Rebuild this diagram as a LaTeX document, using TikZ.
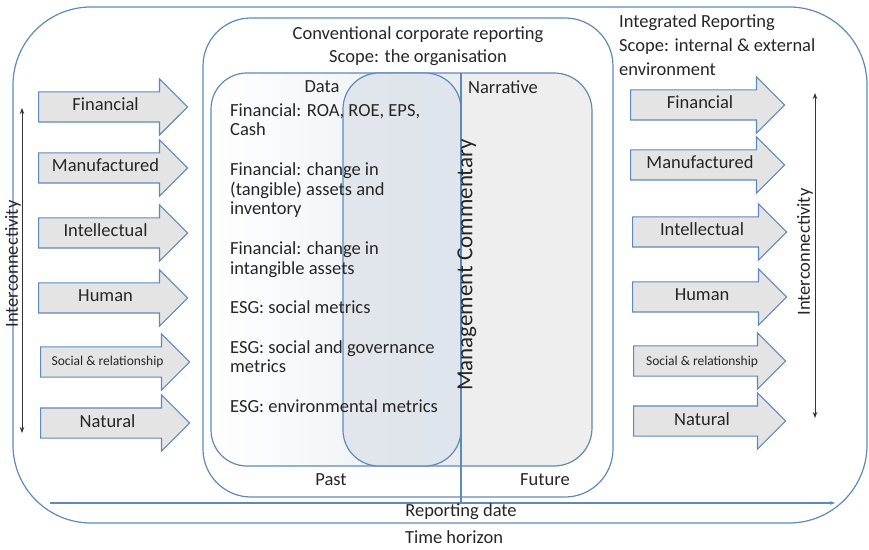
\documentclass[tikz,border=0pt]{standalone}
\usepackage{fontspec}
\setmainfont{Carlito}
\usetikzlibrary{arrows.meta,positioning,shapes.arrows}
\definecolor{ln}{RGB}{95,137,188}
\definecolor{ink}{RGB}{38,38,38}
\definecolor{capfill}{RGB}{228,228,228}
\definecolor{narr}{RGB}{238,238,238}
\definecolor{mgmt}{RGB}{222,228,235}
\tikzset{
  cap/.style={single arrow,draw=ln,fill=capfill,line width=1.2pt,anchor=tail,
    single arrow head extend=13pt,single arrow tip angle=90,
    text height=11pt,text depth=3pt,inner ysep=7.5pt,inner xsep=2pt,
    minimum height=#1,font=\fontsize{18.5}{20}\selectfont,text=ink},
  cap/.default={149pt},
  frame/.style={draw=ln,line width=1.2pt},
  lbl/.style={font=\fontsize{18.5}{20}\selectfont,text=ink},
  vlbl/.style={lbl,rotate=90,inner sep=0pt},
  dbl/.style={{Stealth[length=6pt]}-{Stealth[length=6pt]},line width=1pt,black!80},
}

\begin{document}
\begin{tikzpicture}[x=1pt,y=1pt]
 \useasboundingbox (0,0) rectangle (869,549);
 % integrated reporting frame and conventional reporting frame
 \draw[frame,rounded corners=78pt] (13,26) rectangle (867,542);
 \draw[frame,rounded corners=48pt] (203,52) rectangle (613,531);
 % data panel, narrative panel, management commentary overlap
 \draw[frame,rounded corners=36pt,left color=white,right color=mgmt!70] (461,83) -| (211,476) -- (461,476);
 \draw[frame,rounded corners=38pt,fill=narr] (461,476) -| (592,83) -- (461,83);
 \draw[frame,rounded corners=36pt,fill=mgmt,fill opacity=0.85] (343,83) rectangle (461,476);
 % reporting date and time horizon
 \coordinate (rdtop) at (461,476);
 \coordinate (rdbot) at (461,46);
 \coordinate (tstart) at (50,46);
 \coordinate (tend) at (835,46);
 \draw[frame] (rdtop) -- (rdbot);
 \draw[frame,-{Stealth[length=5pt]}] (tstart) -- (tend);
 % headings
 \node[lbl,align=center,font=\fontsize{18.5}{23}\selectfont] (conv) at (418,503) {Conventional corporate reporting\\Scope: the organisation};
 \node[lbl,align=left,anchor=north west,inner sep=0pt,font=\fontsize{18.5}{24}\selectfont] (ir) at (619,535) {Integrated Reporting\\Scope: internal \& external\\environment};
 \node[lbl] (data) at (322,462) {Data};
 \node[lbl] (narr) at (503,462) {Narrative};
 \node[lbl,align=left,anchor=north west,inner sep=0pt,font=\fontsize{18.5}{19.75}\selectfont] (items) at (230,446)
   {Financial: ROA, ROE, EPS,\\Cash\\[19.75pt]
    Financial: change in\\(tangible) assets and\\inventory\\[19.75pt]
    Financial: change in\\intangible assets\\[19.75pt]
    ESG: social metrics\\[19.75pt]
    ESG: social and governance\\metrics\\[19.75pt]
    ESG: environmental metrics};
 \node[vlbl,font=\fontsize{23}{24}\selectfont] (mc) at (467,284) {Management Commentary};
 \node[lbl] (past) at (331,69) {Past};
 \node[lbl] (fut) at (545,69) {Future};
 \node[lbl] (rd) at (461,37) {Reporting date};
 \node[lbl] (th) at (454,12) {Time horizon};
 % capitals going in
 \node[cap] (lfin) at (38,442) {Financial};
 \node[cap] (lman) at (38,381) {Manufactured};
 \node[cap] (lint) at (38,316) {Intellectual};
 \node[cap] (lhum) at (38,251) {Human};
 \node[cap,font=\fontsize{13.5}{14}\selectfont] (lsoc) at (40,187) {Social \& relationship};
 \node[cap] (lnat) at (40,126) {Natural};
 % capitals coming out
 \node[cap=154pt] (rfin) at (630,444) {Financial};
 \node[cap=154pt] (rman) at (630,384) {Manufactured};
 \node[cap=154pt] (rint) at (632,317) {Intellectual};
 \node[cap=154pt] (rhum) at (632,252) {Human};
 \node[cap=152pt,font=\fontsize{13.5}{14}\selectfont] (rsoc) at (633,188) {Social \& relationship};
 \node[cap=152pt] (rnat) at (633,128) {Natural};
 % interconnectivity
 \coordinate (lup) at (22,441);
 \coordinate (ldn) at (22,116);
 \coordinate (rup) at (815,456);
 \coordinate (rdn) at (815,131);
 \draw[dbl] (lup) -- (ldn);
 \draw[dbl] (rup) -- (rdn);
 \node[vlbl] (lic) at (13,285) {Interconnectivity};
 \node[vlbl] (ric) at (805,297) {Interconnectivity};
\end{tikzpicture}
\end{document}
